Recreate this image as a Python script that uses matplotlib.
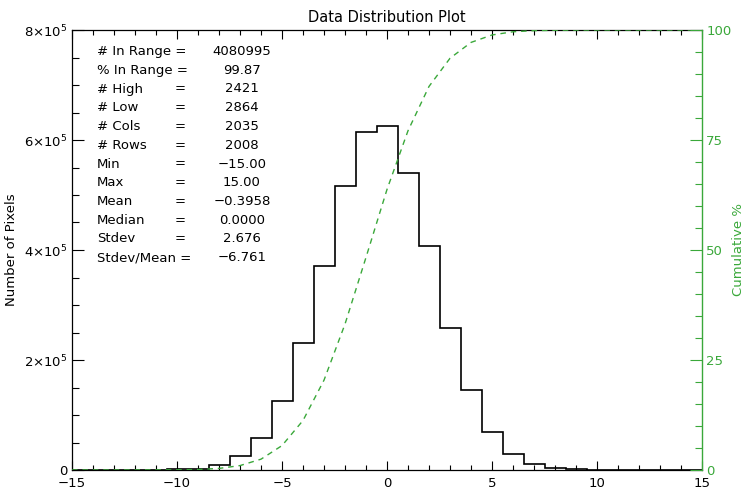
import numpy as np
import matplotlib
matplotlib.use("Agg")
import matplotlib.pyplot as plt
from matplotlib.ticker import MultipleLocator, FuncFormatter

# ---- data ----
bin_centers = list(range(-15, 16))
counts = [0, 0, 0, 300, 600, 1200, 2500, 10000, 26000, 59000, 125000,
          231000, 371000, 516000, 614000, 625000, 540000, 408000, 259000,
          146000, 68500, 29600, 10400, 3500, 1500, 800, 0, 0, 0, 0, 0]

stat_labels = ["# In Range =", "% In Range =", "# High", "# Low", "# Cols",
               "# Rows", "Min", "Max", "Mean", "Median", "Stdev", "Stdev/Mean ="]
stat_values = ["4080995", "99.87", "2421", "2864", "2035", "2008", "\u221215.00",
               "15.00", "\u22120.3958", "0.0000", "2.676", "\u22126.761"]

title = "Data Distribution Plot"
ylabel_left = "Number of Pixels"
ylabel_right = "Cumulative %"

GREEN = "#3aa83a"
W, H = 749, 496
L, R, T, B = 72, 702, 30, 470

fig = plt.figure(figsize=(W / 100, H / 100), dpi=100)
ax = fig.add_axes([L / W, (H - B) / H, (R - L) / W, (B - T) / H])

centers = np.array(bin_centers, dtype=float)
cnt = np.array(counts, dtype=float)
edges = np.concatenate([centers - 0.5, [centers[-1] + 0.5]])
ax.stairs(cnt, edges, color="black", linewidth=1.2)

ax.set_xlim(-15, 15)
ax.set_ylim(0, 8e5)
ax.xaxis.set_major_locator(MultipleLocator(5))
ax.xaxis.set_minor_locator(MultipleLocator(1))
ax.yaxis.set_major_locator(MultipleLocator(2e5))
ax.yaxis.set_minor_locator(MultipleLocator(5e4))

def xfmt(v, p):
    iv = int(round(v))
    return ("\u2212%d" % -iv) if iv < 0 else "%d" % iv

def yfmt(v, p):
    if v == 0:
        return "0"
    m = v / 1e5
    return r"$%d{\times}10^{5}$" % int(round(m))

ax.xaxis.set_major_formatter(FuncFormatter(xfmt))
ax.yaxis.set_major_formatter(FuncFormatter(yfmt))

ax.tick_params(axis="x", which="major", direction="in", length=6.5, width=0.8,
               top=True, labelsize=9.5, pad=5)
ax.tick_params(axis="x", which="minor", direction="in", length=3.6, width=0.8, top=True)
ax.tick_params(axis="y", which="major", direction="in", length=8.5, width=0.8,
               right=False, labelsize=9.5, pad=3)
ax.tick_params(axis="y", which="minor", direction="in", length=5, width=0.8, right=False)
for s in ["left", "bottom", "top"]:
    ax.spines[s].set_linewidth(0.9)
ax.spines["right"].set_visible(False)

ax.set_ylabel(ylabel_left, fontsize=9.5, labelpad=8)
ax.yaxis.set_label_coords((18 - L) / (R - L), 0.5)
ax.set_title(title, fontsize=10.5, pad=6)

# twin axis for cumulative
ax2 = ax.twinx()
cum = np.cumsum(cnt) / np.sum(cnt) * 100.0
ax2.plot(centers, cum, color=GREEN, linestyle=(0, (4, 3.5)), linewidth=1.0)
ax2.set_ylim(0, 100)
ax2.yaxis.set_major_locator(MultipleLocator(25))
ax2.yaxis.set_minor_locator(MultipleLocator(5))
ax2.tick_params(axis="y", which="major", direction="in", length=8.5, width=0.8,
                colors=GREEN, labelsize=9.5, pad=3)
ax2.tick_params(axis="y", which="minor", direction="in", length=5, width=0.8, colors=GREEN)
for s in ["left", "bottom", "top"]:
    ax2.spines[s].set_visible(False)
ax2.spines["right"].set_color(GREEN)
ax2.spines["right"].set_linewidth(1.0)
ax2.set_ylabel(ylabel_right, color=GREEN, fontsize=9.5, va="center", ha="center")
ax2.yaxis.set_label_coords((738 - L) / (R - L), 0.5)

# statistics block
y0, dy = 51.5, 18.75
for i, (lab, val) in enumerate(zip(stat_labels, stat_values)):
    py = y0 + i * dy
    fy = (B - py) / (B - T)
    ax.text((97 - L) / (R - L), fy, lab, transform=ax.transAxes,
            fontsize=9.5, va="center", ha="left")
    if not lab.endswith("="):
        ax.text((175 - L) / (R - L), fy, "=", transform=ax.transAxes,
                fontsize=9.5, va="center", ha="left")
    ax.text((242 - L) / (R - L), fy, val, transform=ax.transAxes,
            fontsize=9.5, va="center", ha="center")

fig.savefig("out.png", dpi=100)
